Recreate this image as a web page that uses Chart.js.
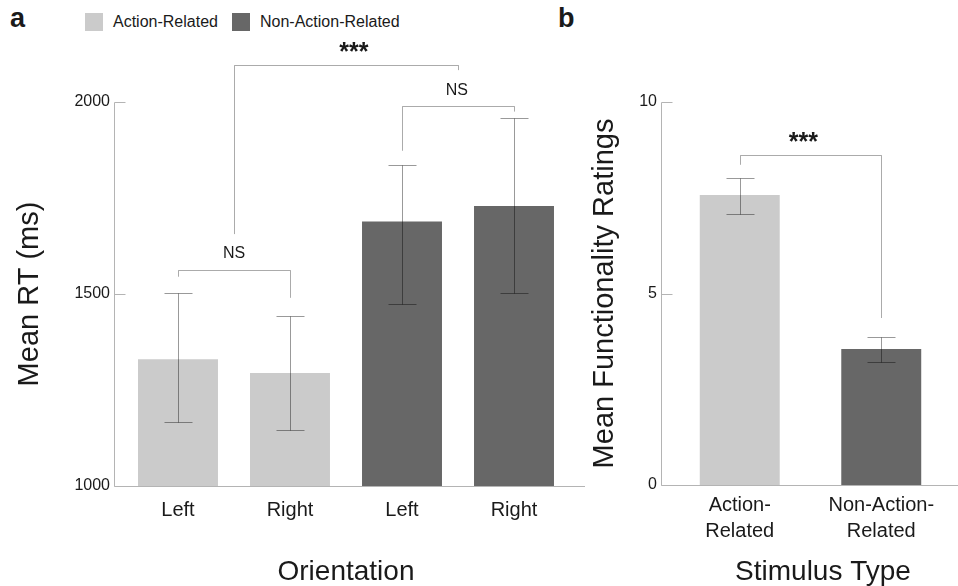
<!DOCTYPE html>
<html>
<head>
<meta charset="utf-8">
<script src="https://cdn.jsdelivr.net/npm/chart.js@4.4.1/dist/chart.umd.min.js"></script>
<style>
  html, body { margin: 0; padding: 0; background: #fff; }
  body { width: 958px; height: 586px; position: relative; overflow: hidden;
         font-family: 'Liberation Sans', Arial, Helvetica, sans-serif; color: #1a1a1a; }
  canvas { position: absolute; top: 0; }
  #ch-rt { left: 0; }
  #ch-func { left: 545px; }
  .panel { position: absolute; top: 5px; font-size: 27px; font-weight: bold; line-height: 27px; }
  .sw { position: absolute; top: 13px; width: 18px; height: 18px; }
  .lg { position: absolute; top: 13px; font-size: 16px; line-height: 18px; white-space: nowrap; }
</style>
</head>
<body>
<div class="panel" style="left:10px">a</div>
<div class="panel" style="left:558px">b</div>
<span class="sw" style="left:85px;background:#cbcbcb"></span><span class="lg" style="left:113px">Action-Related</span>
<span class="sw" style="left:232px;background:#676767"></span><span class="lg" style="left:260px">Non-Action-Related</span>
<canvas id="ch-rt" width="585" height="586"></canvas>
<canvas id="ch-func" width="413" height="586"></canvas>
<script>
const C = {
  action: '#cbcbcb', nonAction: '#676767', axis: '#b4b4b4',
  err: 'rgba(0,0,0,0.4)', bracket: 'rgba(0,0,0,0.33)', text: '#1a1a1a',
};
const FONT = "'Liberation Sans', Arial, Helvetica, sans-serif";
Chart.defaults.font.family = FONT;
Chart.defaults.color = C.text;

// Panel a: mean RT per orientation (first two action-related, last two not)
const rtLabels = ['Left', 'Right', 'Left', 'Right'];
const rtGroup = ['action', 'action', 'nonAction', 'nonAction'];
const rtMeans = [1330, 1294, 1689, 1729];
const rtErrLow = [1166, 1145, 1474, 1503];
const rtErrHigh = [1502, 1443, 1835, 1958];
const rtTicks = [1000, 1500, 2000];

// Panel b: mean functionality rating per stimulus type
const funcLabels = [['Action-', 'Related'], ['Non-Action-', 'Related']];
const funcGroup = ['action', 'nonAction'];
const funcMeans = [7.57, 3.55];
const funcErrLow = [7.08, 3.22];
const funcErrHigh = [8.01, 3.86];
const funcTicks = [0, 5, 10];

// Significance brackets, in category index / data units.
const rtBrackets = [
  { from: 0, to: 1, y: 1562, ends: [1545, 1490], text: 'NS', at: 0.5, textY: 1594 },
  { from: 2, to: 3, y: 1990, ends: [1873, 1975], text: 'NS', at: 2.49, textY: 2018 },
  { from: 0.5, to: 2.5, y: 2096, ends: [1656, 2083], text: '***', at: 1.57, textY: 2110 },
];
const funcBrackets = [
  { from: 0, to: 1, y: 8.61, ends: [8.36, 4.36], text: '***', at: 0.45, textY: 8.74 },
];

const crisp = v => Math.round(v) + 0.5;

// Draws error bars, the detached axis frame and the significance brackets.
function framePlugin({ lo, hi, ticks, brackets, gap, xTitle }) {
  return {
    id: 'frame',
    afterDatasetsDraw(chart) {
      const { ctx, chartArea: a, scales: { x, y }, width } = chart;
      ctx.save();
      ctx.lineWidth = 1;

      ctx.strokeStyle = C.err;
      ctx.beginPath();
      lo.forEach((v, i) => {
        const px = crisp(x.getPixelForValue(i));
        const y0 = crisp(y.getPixelForValue(v)), y1 = crisp(y.getPixelForValue(hi[i]));
        ctx.moveTo(px, y0); ctx.lineTo(px, y1);
        ctx.moveTo(px - 14, y0); ctx.lineTo(px + 14, y0);
        ctx.moveTo(px - 14, y1); ctx.lineTo(px + 14, y1);
      });
      ctx.stroke();

      // axis line sits a little left of the first category, baseline runs to the edge
      const ax = crisp(a.left - gap);
      const yb = crisp(y.getPixelForValue(ticks[0]));
      const yt = crisp(y.getPixelForValue(ticks[ticks.length - 1]));
      ctx.strokeStyle = C.axis;
      ctx.beginPath();
      ctx.moveTo(ax, yt); ctx.lineTo(ax, yb); ctx.lineTo(width, yb);
      ticks.forEach(t => {
        const ty = crisp(y.getPixelForValue(t));
        ctx.moveTo(ax, ty); ctx.lineTo(ax + 11, ty);
      });
      ctx.stroke();

      ctx.strokeStyle = C.bracket;
      ctx.fillStyle = C.text;
      ctx.textAlign = 'center';
      ctx.textBaseline = 'alphabetic';
      brackets.forEach(b => {
        const xl = crisp(x.getPixelForValue(b.from)), xr = crisp(x.getPixelForValue(b.to));
        const by = crisp(y.getPixelForValue(b.y));
        ctx.beginPath();
        ctx.moveTo(xl, y.getPixelForValue(b.ends[0]));
        ctx.lineTo(xl, by); ctx.lineTo(xr, by);
        ctx.lineTo(xr, y.getPixelForValue(b.ends[1]));
        ctx.stroke();
        ctx.font = b.text === 'NS' ? `16px ${FONT}` : `bold 25px ${FONT}`;
        ctx.fillText(b.text, x.getPixelForValue(b.at), y.getPixelForValue(b.textY));
      });

      if (xTitle) {
        ctx.font = `28px ${FONT}`;
        ctx.textBaseline = 'middle';
        ctx.fillText(xTitle.text, xTitle.x, xTitle.y);
      }
      ctx.restore();
    },
  };
}

function barChart(id, { labels, groups, means, lo, hi, ticks, min, max, barPct, yWidth, xHeight,
                        padRight, yTitle, yTitlePad, xTitle, xTickPad, xTickLH, brackets, ownXTitle }) {
  return new Chart(document.getElementById(id), {
    type: 'bar',
    data: {
      labels,
      datasets: [{
        data: means,
        backgroundColor: groups.map(g => C[g]),
        borderWidth: 0,
        barPercentage: barPct,
        categoryPercentage: 1,
      }],
    },
    options: {
      responsive: false,
      animation: false,
      events: [],
      layout: { padding: { left: 0, right: padRight, top: 102, bottom: 0 } },
      plugins: { legend: { display: false }, tooltip: { enabled: false } },
      scales: {
        x: {
          grid: { display: false, drawTicks: false },
          border: { display: false },
          ticks: { color: C.text, font: { size: 20, lineHeight: xTickLH }, padding: xTickPad,
                   maxRotation: 0, autoSkip: false },
          title: { display: !!xTitle, text: xTitle || '', color: C.text,
                   font: { size: 28, lineHeight: 1 }, padding: 0 },
          afterFit: s => { s.height = xHeight; },
        },
        y: {
          min, max,
          afterBuildTicks: s => { s.ticks = ticks.map(v => ({ value: v })); },
          grid: { display: false, drawTicks: false },
          border: { display: false },
          ticks: { color: C.text, font: { size: 16 }, padding: 12, callback: v => String(v) },
          title: { display: true, text: yTitle, color: C.text,
                   font: { size: 29 }, padding: { top: yTitlePad, bottom: 0 } },
          afterFit: s => { s.width = yWidth; },
        },
      },
    },
    plugins: [framePlugin({ lo, hi, ticks, brackets, gap: 8, xTitle: ownXTitle })],
  });
}

barChart('ch-rt', {
  labels: rtLabels, groups: rtGroup, means: rtMeans, lo: rtErrLow, hi: rtErrHigh,
  ticks: rtTicks, min: 1000, max: 2000, barPct: 0.714, yWidth: 122, xHeight: 100, padRight: 15,
  yTitle: 'Mean RT (ms)', yTitlePad: 13, xTitle: 'Orientation', xTickPad: 12, xTickLH: 1.2,
  brackets: rtBrackets,
});

barChart('ch-func', {
  labels: funcLabels, groups: funcGroup, means: funcMeans, lo: funcErrLow, hi: funcErrHigh,
  ticks: funcTicks, min: 0, max: 10, barPct: 0.565, yWidth: 124, xHeight: 101, padRight: 6,
  yTitle: 'Mean Functionality Ratings', yTitlePad: 43, xTickPad: 7, xTickLH: 1.3,
  brackets: funcBrackets, ownXTitle: { text: 'Stimulus Type', x: 278, y: 572 },
});
</script>
</body>
</html>
